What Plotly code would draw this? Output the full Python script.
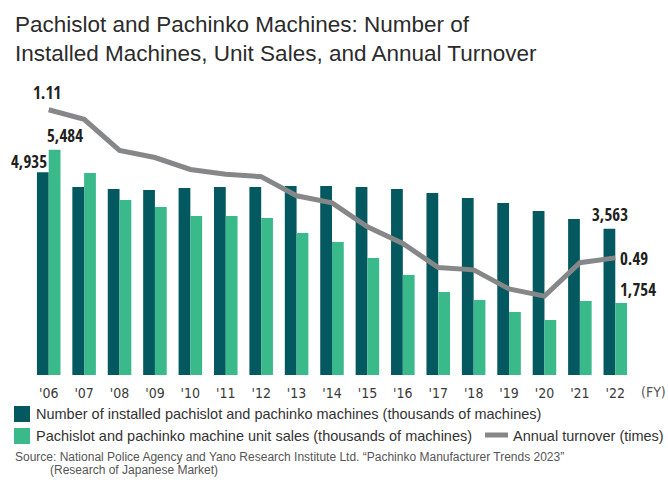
import plotly.graph_objects as go

years = ["'06", "'07", "'08", "'09", "'10", "'11", "'12", "'13", "'14", "'15",
         "'16", "'17", "'18", "'19", "'20", "'21", "'22"]
installed = [4935, 4580, 4530, 4505, 4555, 4580, 4580, 4600, 4600, 4580,
             4530, 4430, 4310, 4190, 3995, 3800, 3563]
unit_sales = [5484, 4920, 4260, 4090, 3870, 3870, 3825, 3460, 3240, 2850,
              2435, 2020, 1825, 1535, 1340, 1800, 1754]
turnover = [1.11, 1.07, 0.94, 0.91, 0.86, 0.84, 0.83, 0.75, 0.72, 0.62,
            0.55, 0.45, 0.44, 0.36, 0.33, 0.47, 0.49]

DARK = "#04585F"
GREEN = "#3AB98A"
GRAY = "#868789"
W, H = 668, 488
ML, MR, MT, MB = 31, 35, 90, 113
PW, PH = W - ML - MR, H - MT - MB


def px(x):
    return (x - ML) / PW


def py(y):
    return (H - MB - y) / PH


LABEL_FONT = dict(family="Open Sans Condensed, DejaVu Sans Condensed, sans-serif",
                  size=17, color="#231f20", weight=700)
TICK_FAMILY = "DejaVu Sans Condensed, Liberation Sans, sans-serif"
TEXT_FONT = "Liberation Sans, Arial, sans-serif"

fig = go.Figure()
fig.add_trace(go.Bar(x=years, y=installed, marker=dict(color=DARK, line=dict(width=0)),
                     name="Number of installed pachislot and pachinko machines (thousands of machines)"))
fig.add_trace(go.Bar(x=years, y=unit_sales, marker=dict(color=GREEN, line=dict(width=0)),
                     name="Pachislot and pachinko machine unit sales (thousands of machines)"))
fig.add_trace(go.Scatter(x=years, y=turnover, yaxis="y2", mode="lines",
                         line=dict(color=GRAY, width=5), name="Annual turnover (times)"))

fig.update_layout(
    width=W, height=H,
    margin=dict(l=ML, r=MR, t=MT, b=MB, pad=0),
    paper_bgcolor="white", plot_bgcolor="white",
    barmode="group", bargap=0.335, bargroupgap=0,
    showlegend=False,
    xaxis=dict(type="category", range=[-0.5, 16.5], showline=False, showgrid=False,
               ticks="", ticklabelstandoff=8,
               tickfont=dict(family=TICK_FAMILY, size=14, color="#3a3a3a"),
               fixedrange=True),
    yaxis=dict(range=[0, 6940], visible=False, showgrid=False, fixedrange=True),
    yaxis2=dict(range=[0, 1.1925], overlaying="y", visible=False, showgrid=False, fixedrange=True),
)

ann = []
# title
ann.append(dict(xref="paper", yref="paper", x=px(13), y=py(10), xanchor="left", yanchor="top",
                text="Pachislot and Pachinko Machines: Number of<br>Installed Machines, Unit Sales, and Annual Turnover",
                align="left", showarrow=False,
                font=dict(family=TEXT_FONT, size=22.5, color="#2b2b2b")))
# data labels
ann.append(dict(x=years[0], y=turnover[0], yref="y2", text="1.11", showarrow=False,
                xanchor="center", yanchor="middle", xshift=-2, yshift=17, font=LABEL_FONT))
ann.append(dict(x=years[0], y=unit_sales[0], yref="y", text="5,484", showarrow=False,
                xanchor="center", yanchor="middle", xshift=16, yshift=14, font=LABEL_FONT))
ann.append(dict(x=years[0], y=installed[0], yref="y", text="4,935", showarrow=False,
                xanchor="right", yanchor="middle", xshift=0, yshift=11, font=LABEL_FONT))
ann.append(dict(x=years[-1], y=installed[-1], yref="y", text="3,563", showarrow=False,
                xanchor="center", yanchor="middle", xshift=-5, yshift=14, font=LABEL_FONT))
ann.append(dict(x=years[-1], y=turnover[-1], yref="y2", text="0.49", showarrow=False,
                xanchor="left", yanchor="middle", xshift=3, yshift=-1, font=LABEL_FONT))
ann.append(dict(x=years[-1], y=unit_sales[-1], yref="y", text="1,754", showarrow=False,
                xanchor="left", yanchor="middle", xshift=3, yshift=13, font=LABEL_FONT))
# FY
ann.append(dict(xref="paper", yref="paper", x=px(639), y=py(392), xanchor="left", yanchor="middle",
                text="(FY)", showarrow=False, font=dict(family=TICK_FAMILY, size=14, color="#555")))
# legend (manual)
leg_font = dict(family=TEXT_FONT, size=14.5, color="#333")
ann.append(dict(xref="paper", yref="paper", x=px(34), y=py(414), xanchor="left", yanchor="middle",
                text=fig.data[0].name, showarrow=False, font=leg_font))
ann.append(dict(xref="paper", yref="paper", x=px(34), y=py(436), xanchor="left", yanchor="middle",
                text=fig.data[1].name, showarrow=False, font=leg_font))
ann.append(dict(xref="paper", yref="paper", x=px(511), y=py(436), xanchor="left", yanchor="middle",
                text=fig.data[2].name, showarrow=False, font=leg_font))
# source
src_font = dict(family=TEXT_FONT, size=12, color="#555")
ann.append(dict(xref="paper", yref="paper", x=px(13), y=py(457), xanchor="left", yanchor="middle",
                text="Source: National Police Agency and Yano Research Institute Ltd. \u201cPachinko Manufacturer Trends 2023\u201d",
                showarrow=False, font=src_font))
ann.append(dict(xref="paper", yref="paper", x=px(48), y=py(470), xanchor="left", yanchor="middle",
                text="(Research of Japanese Market)", showarrow=False, font=src_font))
fig.update_layout(annotations=ann)

shapes = [
    dict(type="rect", xref="paper", yref="paper", x0=px(14), x1=px(30), y0=py(406), y1=py(422),
         fillcolor=DARK, line=dict(width=0)),
    dict(type="rect", xref="paper", yref="paper", x0=px(14), x1=px(30), y0=py(428), y1=py(444),
         fillcolor=GREEN, line=dict(width=0)),
    dict(type="line", xref="paper", yref="paper", x0=px(485), x1=px(508), y0=py(435), y1=py(435),
         line=dict(color=GRAY, width=5)),
]
fig.update_layout(shapes=shapes)

fig.write_html("out.html", config={"displayModeBar": False, "staticPlot": True},
               post_script="document.body.style.margin='0';")
